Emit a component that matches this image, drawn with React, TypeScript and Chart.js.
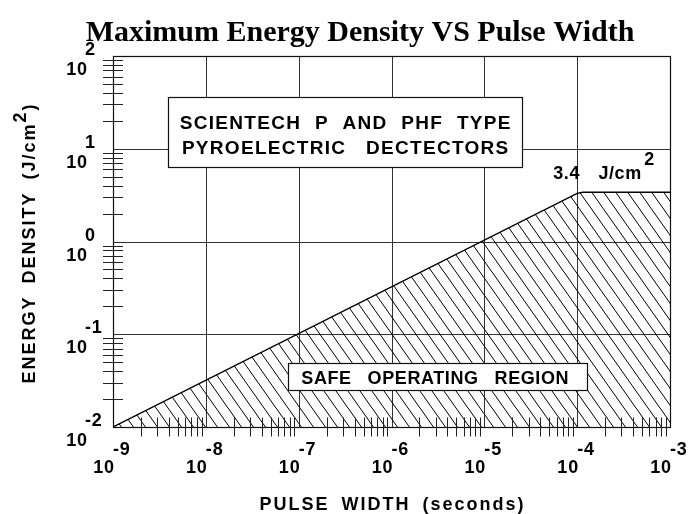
import React, { useEffect, useRef } from "react";
import { Chart, registerables } from "chart.js";

Chart.register(...registerables);

// ---- data ----
const pulseWidths = [1e-9, 1e-4, 1.15e-4, 1e-3];
const maxDensity = [0.01, 3.3, 3.4, 3.4];
const xDecades = [-9, -8, -7, -6, -5, -4, -3];
const yDecades = [-2, -1, 0, 1, 2];
const minorMultipliers = [2, 3, 4, 5, 6, 7, 8, 9];
const titleText = "Maximum Energy Density VS Pulse Width";
const xTitleWords = ["PULSE", "WIDTH", "(seconds)"];
const yTitleWords = ["ENERGY", "DENSITY", "(J/cm"];
const yTitleSup = "2";
const yTitleEnd = ")";
const boxLine1 = ["SCIENTECH", "P", "AND", "PHF", "TYPE"];
const boxLine2 = ["PYROELECTRIC", "DECTECTORS"];
const safeWords = ["SAFE", "OPERATING", "REGION"];
const limitWords = ["3.4", "J/cm"];
const limitSup = "2";

const SANS = '"Liberation Sans", Arial, sans-serif';
const SERIF = '"Liberation Serif", "Times New Roman", serif';

function makeHatch(): CanvasPattern | string {
  const w = 12;
  const h = 17;
  const c = document.createElement("canvas");
  c.width = w;
  c.height = h;
  const g = c.getContext("2d");
  if (!g) return "transparent";
  g.strokeStyle = "#000";
  g.lineWidth = 1;
  for (let k = -1; k <= 1; k++) {
    g.beginPath();
    g.moveTo(k * w - w, -h);
    g.lineTo(k * w + 2 * w, 2 * h);
    g.stroke();
  }
  const p = g.createPattern(c, "repeat");
  return p || "transparent";
}

function seg(ctx: CanvasRenderingContext2D, x1: number, y1: number, x2: number, y2: number) {
  ctx.beginPath();
  ctx.moveTo(x1, y1);
  ctx.lineTo(x2, y2);
  ctx.stroke();
}

function setFont(ctx: CanvasRenderingContext2D, size: number, ls: number) {
  ctx.font = `bold ${size}px ${SANS}`;
  (ctx as any).letterSpacing = `${ls}px`;
}

// draws words with explicit gaps; returns the x after the last word
function drawWords(
  ctx: CanvasRenderingContext2D,
  words: string[],
  x: number,
  y: number,
  align: "left" | "center",
  gap: number,
  ls: number
): number {
  ctx.textAlign = "left";
  const ws = words.map((w) => ctx.measureText(w).width - ls);
  const total = ws.reduce((s, v) => s + v, 0) + gap * (words.length - 1);
  let cx = align === "center" ? x - total / 2 : x;
  words.forEach((w, i) => {
    ctx.fillText(w, cx, y);
    cx += ws[i] + (i < words.length - 1 ? gap : 0);
  });
  return cx;
}

const decorPlugin = {
  id: "decor",
  beforeDatasetsDraw(chart: any) {
    const { ctx, chartArea: a, scales } = chart;
    const x = scales.x;
    const y = scales.y;
    ctx.save();
    ctx.strokeStyle = "#333";
    ctx.lineWidth = 1;
    for (const d of xDecades) {
      const px = Math.round(x.getPixelForValue(Math.pow(10, d))) + 0.5;
      seg(ctx, px, a.top, px, a.bottom);
    }
    for (const d of yDecades) {
      const py = Math.round(y.getPixelForValue(Math.pow(10, d))) + 0.5;
      seg(ctx, a.left, py, a.right, py);
    }
    ctx.restore();
  },
  afterDatasetsDraw(chart: any) {
    const { ctx, chartArea: a, scales } = chart;
    const x = scales.x;
    const y = scales.y;
    ctx.save();
    // frame
    ctx.strokeStyle = "#111";
    ctx.lineWidth = 1.2;
    ctx.strokeRect(Math.round(a.left) + 0.5, Math.round(a.top) + 0.5, Math.round(a.right - a.left), Math.round(a.bottom - a.top));

    // minor ticks
    ctx.strokeStyle = "#222";
    ctx.lineWidth = 1;
    for (let i = 0; i < xDecades.length - 1; i++) {
      for (const m of minorMultipliers) {
        const px = Math.round(x.getPixelForValue(m * Math.pow(10, xDecades[i]))) + 0.5;
        seg(ctx, px, a.bottom - 9.5, px, a.bottom + 9.5);
      }
    }
    for (let i = 0; i < yDecades.length - 1; i++) {
      for (const m of minorMultipliers) {
        const py = Math.round(y.getPixelForValue(m * Math.pow(10, yDecades[i]))) + 0.5;
        seg(ctx, a.left - 10, py, a.left + 10, py);
      }
    }

    // tick labels
    ctx.fillStyle = "#000";
    ctx.textBaseline = "alphabetic";
    const tls = 0.8;
    setFont(ctx, 18, tls);
    for (const d of xDecades) {
      const px = x.getPixelForValue(Math.pow(10, d));
      ctx.textAlign = "right";
      ctx.fillText("10", px + tls + 1, a.bottom + 46);
      ctx.textAlign = "left";
      ctx.fillText(String(d), px, a.bottom + 28);
    }
    for (const d of yDecades) {
      const py = y.getPixelForValue(Math.pow(10, d));
      ctx.textAlign = "right";
      ctx.fillText("10", a.left - 26 + tls, py + 19);
      ctx.textAlign = "left";
      ctx.fillText(String(d), a.left - 28, py - 1);
    }

    // axis titles
    const als = 2;
    setFont(ctx, 18, als);
    drawWords(ctx, xTitleWords, (a.left + a.right) / 2, 510, "center", 14, als);

    ctx.save();
    ctx.translate(35, 243);
    ctx.rotate(-Math.PI / 2);
    const wMain =
      yTitleWords.reduce((s, w) => s + ctx.measureText(w).width - als, 0) + 14 * (yTitleWords.length - 1);
    const wSup = ctx.measureText(yTitleSup).width;
    const wEnd = ctx.measureText(yTitleEnd).width;
    const start = -(wMain + wSup + wEnd + als) / 2;
    const after = drawWords(ctx, yTitleWords, start, 0, "left", 14, als);
    ctx.fillText(yTitleSup, after + als, -9);
    ctx.fillText(yTitleEnd, after + als + wSup, 0);
    ctx.restore();

    // annotation box 1
    const b1x = x.getPixelForValue(Math.pow(10, -6.5));
    const b1y = y.getPixelForValue(Math.pow(10, 1.18));
    const b1w = 354;
    const b1h = 70;
    ctx.fillStyle = "#fff";
    ctx.fillRect(b1x - b1w / 2, b1y - b1h / 2, b1w, b1h);
    ctx.strokeStyle = "#111";
    ctx.lineWidth = 1.2;
    ctx.strokeRect(Math.round(b1x - b1w / 2) + 0.5, Math.round(b1y - b1h / 2) + 0.5, b1w, b1h);
    ctx.fillStyle = "#000";
    const bls = 1.3;
    setFont(ctx, 19, bls);
    drawWords(ctx, boxLine1, b1x, b1y - b1h / 2 + 32, "center", 15, bls);
    drawWords(ctx, boxLine2, b1x, b1y - b1h / 2 + 57, "center", 21, bls);

    // annotation box 2
    const b2x = x.getPixelForValue(Math.pow(10, -5.5));
    const b2y = y.getPixelForValue(Math.pow(10, -1.455));
    const b2w = 299;
    const b2h = 27;
    ctx.fillStyle = "#fff";
    ctx.fillRect(b2x - b2w / 2, b2y - b2h / 2, b2w, b2h);
    ctx.strokeRect(Math.round(b2x - b2w / 2) + 0.5, Math.round(b2y - b2h / 2) + 0.5, b2w, b2h);
    ctx.fillStyle = "#000";
    const sls = 0.6;
    setFont(ctx, 18, sls);
    drawWords(ctx, safeWords, b2x - 3, b2y + 8, "center", 16.5, sls);

    // limit label
    const lx = x.getPixelForValue(1e-4) - 24;
    const ly = y.getPixelForValue(3.4) - 13;
    const lls = 0.6;
    setFont(ctx, 18, lls);
    const lend = drawWords(ctx, limitWords, lx, ly, "left", 19, lls);
    ctx.fillText(limitSup, lend + 3, ly - 14);

    // chart title
    (ctx as any).letterSpacing = "0px";
    ctx.font = `bold 30px ${SERIF}`;
    ctx.textAlign = "center";
    ctx.fillText(titleText, 360, 41);

    ctx.restore();
  },
};

export default function App() {
  const ref = useRef<HTMLCanvasElement | null>(null);
  useEffect(() => {
    if (!ref.current) return;
    const chart = new Chart(ref.current, {
      type: "line",
      data: {
        datasets: [
          {
            data: pulseWidths.map((v, i) => ({ x: v, y: maxDensity[i] })),
            borderColor: "#000",
            borderWidth: 1.4,
            pointRadius: 0,
            tension: 0,
            fill: "start",
            backgroundColor: makeHatch() as any,
          },
        ],
      },
      options: {
        animation: false,
        responsive: false,
        maintainAspectRatio: false,
        layout: { padding: { left: 113, right: 20, top: 56, bottom: 87 }, autoPadding: false },
        plugins: { legend: { display: false }, title: { display: false }, tooltip: { enabled: false } },
        scales: {
          x: { type: "logarithmic", min: 1e-9, max: 1e-3, display: false },
          y: { type: "logarithmic", min: 1e-2, max: 1e2, display: false },
        },
      },
      plugins: [decorPlugin],
    });
    return () => chart.destroy();
  }, []);
  return (
    <div style={{ position: "absolute", left: 0, top: 0, width: 690, height: 514, background: "#fff" }}>
      <canvas ref={ref} width={690} height={514} />
    </div>
  );
}
